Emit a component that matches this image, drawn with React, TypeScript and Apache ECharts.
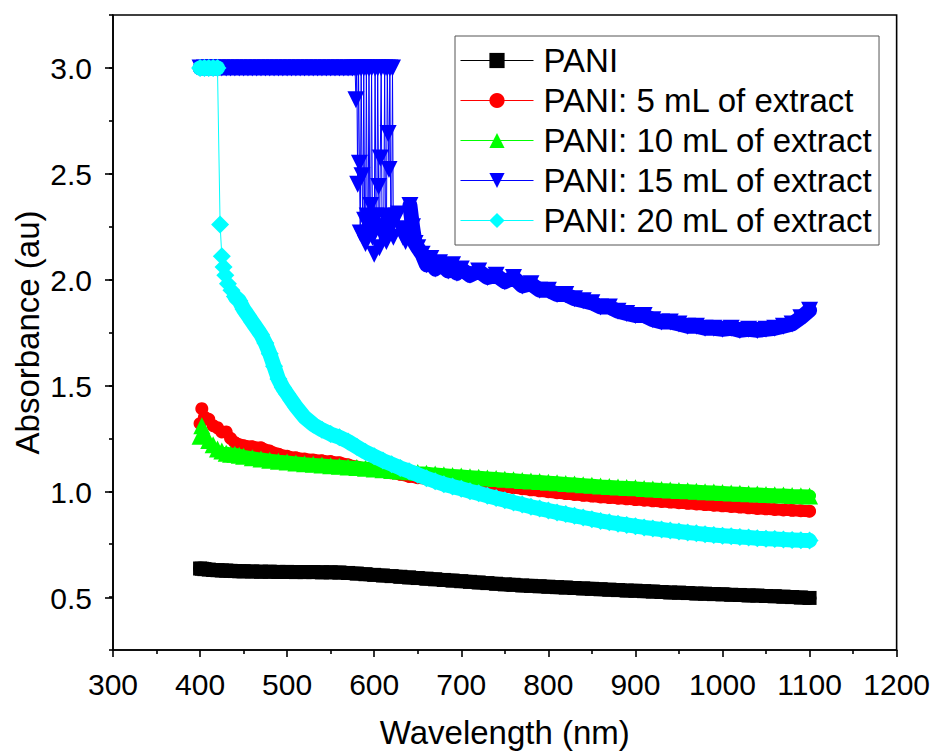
import React, { useEffect, useRef } from "react";
import * as echarts from "echarts";

// ---------- data ----------
const wavelengths = [
  400, 402, 405, 410, 415, 420, 425, 430, 435, 440, 445, 450,
  460, 470, 480, 490, 500, 510, 520, 530, 540, 550, 560, 570, 580, 590,
  600, 610, 620, 630, 640, 650, 660, 670, 680, 690,
  700, 710, 720, 730, 740, 750, 760, 770, 780, 790,
  800, 810, 820, 830, 840, 850, 860, 870, 880, 890,
  900, 910, 920, 930, 940, 950, 960, 970, 980, 990,
  1000, 1010, 1020, 1030, 1040, 1050, 1060, 1070, 1080, 1090, 1100,
];

const pani = [
  0.635, 0.634, 0.632, 0.63, 0.628, 0.627, 0.626, 0.625, 0.624, 0.623, 0.622, 0.622,
  0.621, 0.62, 0.62, 0.619, 0.619, 0.618, 0.618, 0.618, 0.617, 0.617, 0.616, 0.614, 0.611, 0.608,
  0.605, 0.602, 0.599, 0.596, 0.593, 0.59, 0.587, 0.584, 0.581, 0.578,
  0.575, 0.572, 0.569, 0.566, 0.563, 0.56, 0.558, 0.555, 0.553, 0.551,
  0.549, 0.547, 0.545, 0.543, 0.541, 0.539, 0.537, 0.535, 0.533, 0.531,
  0.53, 0.528, 0.526, 0.524, 0.522, 0.521, 0.519, 0.517, 0.516, 0.514,
  0.513, 0.511, 0.51, 0.508, 0.507, 0.505, 0.504, 0.502, 0.5, 0.498, 0.496,
];

const pani5mL = [
  1.32, 1.39, 1.35, 1.34, 1.31, 1.3, 1.28, 1.28, 1.25, 1.23, 1.22, 1.215,
  1.21, 1.205, 1.19, 1.175, 1.165, 1.158, 1.152, 1.148, 1.144, 1.14, 1.135, 1.125, 1.115, 1.108,
  1.1, 1.093, 1.087, 1.08, 1.07, 1.064, 1.059, 1.054, 1.049, 1.045,
  1.041, 1.037, 1.033, 1.029, 1.025, 1.021, 1.017, 1.012, 1.007, 1.002,
  0.998, 0.993, 0.989, 0.985, 0.981, 0.977, 0.973, 0.97, 0.967, 0.964,
  0.961, 0.958, 0.955, 0.952, 0.949, 0.946, 0.943, 0.94, 0.937, 0.934,
  0.931, 0.928, 0.925, 0.922, 0.919, 0.917, 0.914, 0.912, 0.91, 0.908, 0.906,
];

const pani10mL = [
  1.26, 1.31, 1.27, 1.24, 1.22, 1.2, 1.19, 1.18, 1.175, 1.175, 1.17, 1.165,
  1.158, 1.152, 1.147, 1.142, 1.138, 1.134, 1.13, 1.127, 1.124, 1.121, 1.118, 1.115, 1.112, 1.109,
  1.105, 1.102, 1.098, 1.095, 1.092, 1.088, 1.085, 1.081, 1.078, 1.075,
  1.072, 1.069, 1.066, 1.063, 1.06, 1.057, 1.054, 1.051, 1.048, 1.046,
  1.043, 1.04, 1.037, 1.034, 1.031, 1.028, 1.025, 1.023, 1.02, 1.018,
  1.016, 1.013, 1.011, 1.008, 1.006, 1.004, 1.002, 1.0, 0.998, 0.996,
  0.994, 0.992, 0.99, 0.988, 0.987, 0.985, 0.983, 0.982, 0.98, 0.979, 0.978,
];

const wavelengths15 = [
  400, 405, 410, 415, 420, 425, 430, 435, 440, 445, 450, 455, 460, 465, 470, 475, 480, 485,
  490, 495, 500, 505, 510, 515, 520, 525, 530, 535, 540, 545, 550, 555, 560, 565, 570, 575,
  578, 579, 580, 581, 582, 583, 584, 585, 586, 587, 588, 589, 590, 591, 592, 593, 594, 595,
  596, 597, 598, 599, 600, 601, 602, 603, 604, 605, 606, 607, 608, 609, 610, 611, 612, 613,
  614, 615, 616, 617, 618, 619, 620, 621, 622, 625, 628, 630, 633, 636, 638, 641, 644, 647,
  650, 655, 660, 665, 670, 675, 680, 685, 690, 695, 700, 710, 720, 730, 740, 750, 760, 770,
  780, 790, 800, 810, 820, 830, 840, 850, 860, 870, 880, 890, 900, 910, 920, 930, 940, 950,
  960, 970, 980, 990, 1000, 1010, 1020, 1030, 1040, 1050, 1060, 1070, 1080, 1090, 1100,
];

const pani15mL = [
  3.0, 3.0, 3.0, 3.0, 3.0, 3.0, 3.0, 3.0, 3.0, 3.0, 3.0, 3.0, 3.0, 3.0, 3.0, 3.0, 3.0, 3.0,
  3.0, 3.0, 3.0, 3.0, 3.0, 3.0, 3.0, 3.0, 3.0, 3.0, 3.0, 3.0, 3.0, 3.0, 3.0, 3.0, 3.0, 3.0,
  3.0, 2.85, 3.0, 2.45, 3.0, 2.55, 2.22, 3.0, 2.49, 2.2, 3.0, 2.28, 2.17, 3.0, 2.3, 2.22, 3.0, 2.25,
  2.35, 3.0, 2.2, 2.27, 2.12, 3.0, 2.3, 2.25, 3.0, 2.44, 2.15, 2.575, 3.0, 2.25, 2.2, 2.3, 3.0, 2.22,
  2.18, 3.0, 2.69, 2.52, 3.0, 2.28, 2.25, 3.0, 2.2, 2.3, 2.31, 2.24, 2.2, 2.18, 2.22, 2.35, 2.25, 2.17,
  2.15, 2.12, 2.07, 2.1, 2.05, 2.08, 2.06, 2.04, 2.07, 2.03, 2.05, 2.02, 2.04, 2.01, 2.02, 1.99, 2.01, 1.97,
  1.98, 1.95, 1.95, 1.93, 1.93, 1.91, 1.9, 1.89, 1.87, 1.87, 1.85, 1.84, 1.83, 1.83, 1.81, 1.8, 1.8, 1.79,
  1.78, 1.78, 1.77, 1.77, 1.765, 1.77, 1.76, 1.765, 1.76, 1.765, 1.77, 1.78, 1.79, 1.82, 1.855,
];

const wavelengths20 = [
  400, 405, 410, 415, 420, 423, 425, 427, 429, 432, 436, 440, 445, 450, 455, 460, 465, 470,
  475, 480, 485, 490, 495, 500, 505, 510, 520, 530, 540, 550, 560, 570, 580, 590, 600,
  610, 620, 630, 640, 650, 660, 670, 680, 690, 700, 710, 720, 730, 740, 750, 760, 770, 780, 790,
  800, 810, 820, 830, 840, 850, 860, 870, 880, 890, 900, 910, 920, 930, 940, 950,
  960, 970, 980, 990, 1000, 1010, 1020, 1030, 1040, 1050, 1060, 1070, 1080, 1090, 1100,
];

const pani20mL = [
  3.0, 3.0, 3.0, 3.0, 3.0, 2.26, 2.11, 2.06, 2.02, 1.98, 1.95, 1.92, 1.9, 1.86, 1.83, 1.8, 1.77, 1.74,
  1.7, 1.65, 1.59, 1.53, 1.49, 1.46, 1.43, 1.4, 1.35, 1.315, 1.29, 1.27, 1.255, 1.235, 1.21, 1.185, 1.165,
  1.145, 1.128, 1.11, 1.095, 1.078, 1.062, 1.047, 1.033, 1.022, 1.012, 1.0, 0.99, 0.979, 0.968, 0.958, 0.947, 0.937, 0.927, 0.918,
  0.909, 0.9, 0.892, 0.884, 0.876, 0.868, 0.86, 0.853, 0.847, 0.841, 0.835, 0.829, 0.824, 0.819, 0.814, 0.81,
  0.805, 0.801, 0.797, 0.793, 0.79, 0.787, 0.784, 0.781, 0.778, 0.776, 0.774, 0.772, 0.77, 0.768, 0.767,
];

const seriesNames = [
  "PANI",
  "PANI: 5 mL of extract",
  "PANI: 10 mL of extract",
  "PANI: 15 mL of extract",
  "PANI: 20 mL of extract",
];
const seriesColors = ["#000000", "#ff0000", "#00ff00", "#0000ff", "#00ffff"];

const xTicks = { min: 300, max: 1200, step: 100 };
const yRange = { min: 0.25, max: 3.25, minorStep: 0.25, majorMin: 0.5, majorMax: 3.0, majorStep: 0.5 };

const zip = (xs: number[], ys: number[]) => xs.map((x, i) => [x, ys[i]]);

const FONT = "Liberation Sans, Arial, sans-serif";

export default function App() {
  const ref = useRef<HTMLDivElement>(null);

  useEffect(() => {
    if (!ref.current) return;
    const chart = echarts.init(ref.current, null, { renderer: "svg" });

    const axisLineStyle = { color: "#000", width: 1.6 };

    // marker series (thin connecting line, as in the original)
    const mkSeries = (i: number, data: number[][], symbol: string, size: number, rotate = 0) => ({
      type: "line",
      name: seriesNames[i],
      data,
      xAxisIndex: 0,
      yAxisIndex: 0,
      symbol,
      symbolSize: size,
      symbolRotate: rotate,
      showSymbol: true,
      color: seriesColors[i],
      itemStyle: { color: seriesColors[i], borderWidth: 0 },
      lineStyle: { color: seriesColors[i], width: 1 },
      emphasis: { disabled: true },
      z: 10 + 2 * i,
    });

    // the dense overlapping markers of the original form a solid band; drawn under the markers
    const mkBand = (i: number, segments: number[][][], width: number) =>
      segments.map((data) => ({
        type: "line",
        name: seriesNames[i],
        data,
        xAxisIndex: 0,
        yAxisIndex: 0,
        symbol: "none",
        showSymbol: false,
        color: seriesColors[i],
        lineStyle: { color: seriesColors[i], width, cap: "round", join: "round" },
        emphasis: { disabled: true },
        z: 9 + 2 * i,
      }));

    const d0 = zip(wavelengths, pani);
    const d1 = zip(wavelengths, pani5mL);
    const d2 = zip(wavelengths, pani10mL);
    const d3 = zip(wavelengths15, pani15mL);
    const d4 = zip(wavelengths20, pani20mL);

    chart.setOption({
      animation: false,
      backgroundColor: "#fff",
      textStyle: { fontFamily: FONT },
      grid: [
        {
          left: 113,
          right: 35,
          top: 15,
          bottom: 103,
          show: true,
          borderColor: "#000",
          borderWidth: 1.6,
          containLabel: false,
        },
        { left: 113, right: 35, top: 68, bottom: 156, containLabel: false },
      ],
      xAxis: [
        {
          type: "value",
          gridIndex: 0,
          min: xTicks.min,
          max: xTicks.max,
          interval: xTicks.step,
          name: "Wavelength (nm)",
          nameLocation: "middle",
          nameGap: 66,
          nameTextStyle: { fontSize: 33, color: "#000", fontFamily: FONT },
          axisLine: { show: true, lineStyle: axisLineStyle },
          axisTick: { show: true, inside: false, length: 7, lineStyle: axisLineStyle },
          minorTick: { show: true, splitNumber: 2, length: 4, lineStyle: axisLineStyle },
          axisLabel: {
            fontSize: 30,
            color: "#000",
            margin: 19,
            fontFamily: FONT,
            formatter: (v: number) => String(v),
          },
          splitLine: { show: false },
          minorSplitLine: { show: false },
        },
        {
          type: "value",
          gridIndex: 1,
          min: xTicks.min,
          max: xTicks.max,
          show: false,
        },
      ],
      yAxis: [
        {
          type: "value",
          gridIndex: 0,
          min: yRange.min,
          max: yRange.max,
          interval: yRange.minorStep,
          name: "Absorbance (au)",
          nameLocation: "middle",
          nameGap: 69,
          nameTextStyle: { fontSize: 33, color: "#000", fontFamily: FONT },
          axisLine: { show: true, lineStyle: axisLineStyle },
          axisTick: { show: true, inside: false, length: 4, lineStyle: axisLineStyle },
          axisLabel: { show: false },
          splitLine: { show: false },
        },
        {
          type: "value",
          gridIndex: 1,
          min: yRange.majorMin,
          max: yRange.majorMax,
          interval: yRange.majorStep,
          axisLine: { show: false },
          axisTick: { show: true, inside: false, length: 8, lineStyle: axisLineStyle },
          axisLabel: {
            fontSize: 30,
            color: "#000",
            margin: 21,
            fontFamily: FONT,
            formatter: (v: number) => v.toFixed(1),
          },
          splitLine: { show: false },
        },
      ],
      legend: {
        show: true,
        orient: "vertical",
        left: 455,
        top: 36,
        padding: [8, 6, 8, 5],
        itemGap: 7,
        itemWidth: 73,
        itemHeight: 19,
        backgroundColor: "#fff",
        borderColor: "#555",
        borderWidth: 1,
        selectedMode: false,
        lineStyle: { width: 1 },
        textStyle: { fontSize: 33, color: "#000", fontFamily: FONT, lineHeight: 33, padding: [0, 0, 0, 5] },
        data: seriesNames,
        z: 40,
      },
      series: [
        mkSeries(0, d0, "rect", 14),
        mkSeries(1, d1, "circle", 13),
        mkSeries(2, d2, "triangle", 17),
        mkSeries(3, d3, "triangle", 17, 180),
        mkSeries(4, d4, "diamond", 18),
        ...mkBand(0, [d0], 14),
        ...mkBand(1, [d1.filter((p) => p[0] >= 440)], 12),
        ...mkBand(2, [d2.filter((p) => p[0] >= 430)], 13),
        ...mkBand(3, [d3.filter((p) => p[0] <= 575), d3.filter((p) => p[0] >= 641)], 15),
        ...mkBand(4, [d4.filter((p) => p[0] <= 420), d4.filter((p) => p[0] >= 440)], 15),
      ],
    });

    return () => chart.dispose();
  }, []);

  return (
    <div
      ref={ref}
      style={{ position: "fixed", left: 0, top: 0, width: 933, height: 754, background: "#fff" }}
    />
  );
}
